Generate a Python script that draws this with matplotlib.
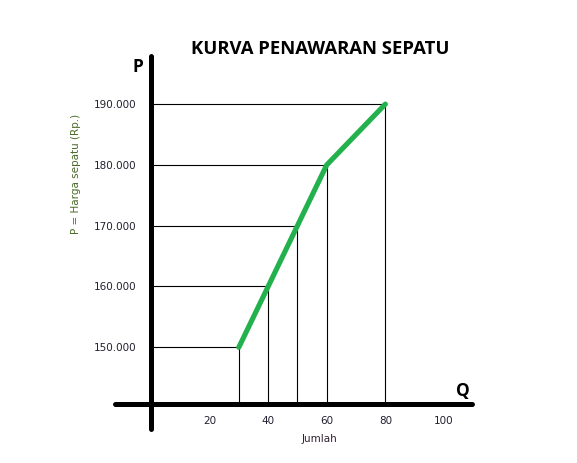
import matplotlib
matplotlib.use('Agg')
import matplotlib.pyplot as plt

# supply curve points (jumlah, harga)
jumlah = [30, 40, 50, 60, 80]
harga = [150000, 160000, 170000, 180000, 190000]

x_ticks = [20, 40, 60, 80, 100]
y_ticks = [150000, 160000, 170000, 180000, 190000]
y_tick_labels = ['150.000', '160.000', '170.000', '180.000', '190.000']

fig = plt.figure(figsize=(5.77, 4.64), dpi=100)
ax = fig.add_axes([0, 0, 1, 1])
ax.set_xlim(-51.5, 145.4)
ax.set_ylim(130970, 207286)
ax.axis('off')

# axes drawn as thick lines
x_axis_p = 140674
ax.plot([0, 0], [136560, 197900], color='black', lw=3.6, solid_capstyle='round')
ax.plot([-12.3, 109.6], [x_axis_p, x_axis_p], color='black', lw=3.6, solid_capstyle='round')

# guide lines from the axes to each point
for q, p in zip(jumlah, harga):
    ax.plot([0, q], [p, p], color='black', lw=0.8)
    ax.plot([q, q], [x_axis_p, p], color='black', lw=0.8)

ax.plot(jumlah, harga, color='#22b14c', lw=3.7, solid_capstyle='round', solid_joinstyle='round')

# tick labels
for p, lab in zip(y_ticks, y_tick_labels):
    ax.text(-5.0, p, lab, ha='right', va='center', fontsize=7.5, color='#202030')
for q in x_ticks:
    ax.text(q, 138100, str(q), ha='center', va='center', fontsize=7.5, color='#202030')

ax.text(57.5, 135050, 'Jumlah', ha='center', va='center', fontsize=7.5, color='#302030')
ax.text(-25.5, 178700, 'P = Harga sepatu (Rp.)', rotation=90, ha='center', va='center',
        fontsize=7.5, color='#4a6a28')

ax.text(57.7, 199300, 'KURVA PENAWARAN SEPATU', ha='center', va='center',
        fontsize=13.3, fontweight='bold', family='Open Sans', color='black')
ax.text(-4.4, 196300, 'P', ha='center', va='center', fontsize=12.5, fontweight='bold',
        family='Open Sans', color='black')
ax.text(106.5, 142960, 'Q', ha='center', va='center', fontsize=12.5, fontweight='bold',
        family='Open Sans', color='black')

fig.savefig('out.png', dpi=100)
